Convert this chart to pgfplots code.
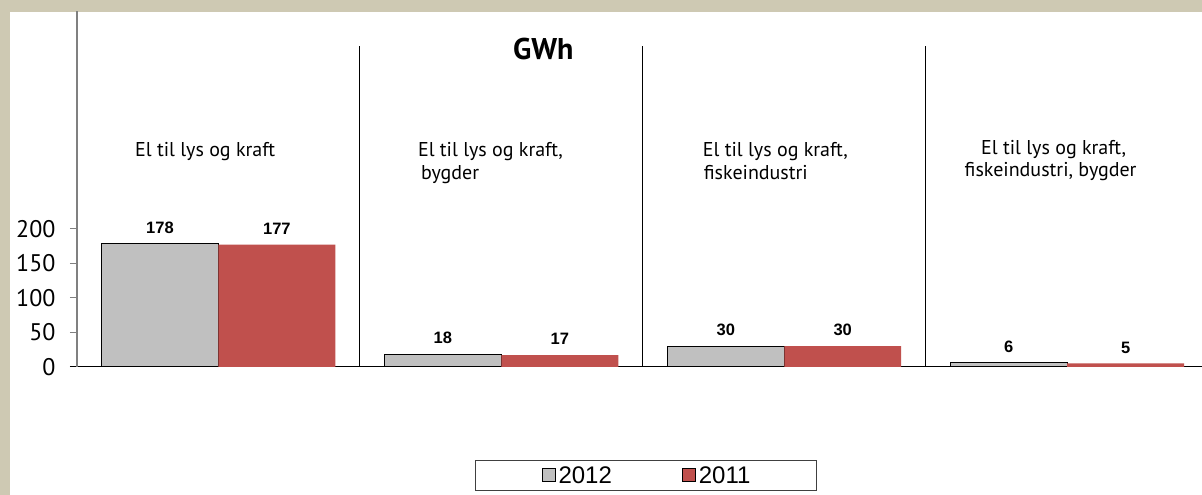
\documentclass[border=0pt]{standalone}
\usepackage{pgfplots}
\pgfplotsset{compat=1.18}
\usepackage{fontspec}
\setmainfont{Liberation Sans}
\newfontfamily\myriad{PT Sans}
\definecolor{framecol}{RGB}{206,201,179}
\definecolor{barGray}{RGB}{192,192,192}
\definecolor{barRed}{RGB}{192,80,77}

\begin{document}
\begin{tikzpicture}[x=1pt,y=1pt]
% frame coordinates: origin at lower left of the 1202 x 495 picture,
% axis box lower left sits at (77,128)
\begin{scope}[shift={(-77pt,-128pt)}]
\fill[framecol] (0,0) rectangle (1202,495);
\fill[white] (10,0) rectangle (1202,483);
\end{scope}

\begin{axis}[
    scale only axis, width=1125pt, height=355pt,
    xmin=-0.5, xmax=3.475, ymin=0, ymax=514.5,
    axis x line*=bottom, axis y line*=left,
    axis line style={-},
    x axis line style={black, line width=0.9pt, shorten <=-7pt},
    y axis line style={gray, line width=1.3pt},
    xtick=\empty,
    ytick={0,50,100,150,200},
    tick align=outside, major tick length=7pt,
    ytick style={gray, line width=1pt},
    /pgf/number format/assume math mode=true,
    yticklabel style={font=\myriad\fontsize{24}{28}\selectfont, xshift=-11pt},
    ybar, bar width=0.4134,
    nodes near coords,
    nodes near coords style={font=\bfseries\fontsize{16.5}{18}\selectfont,
        anchor=south, inner sep=0pt, yshift=10pt, black},
    legend columns=2,
    legend style={at={(0.506,-0.3056)}, anchor=center,
        draw=darkgray, line width=1pt,
        font=\fontsize{24}{28}\selectfont,
        inner xsep=66pt, inner ysep=6pt,
        nodes={inner sep=0pt},
        /tikz/every odd column/.append style={column sep=3pt},
        /tikz/every even column/.append style={column sep=70pt}},
    legend image code/.code={\draw[#1,/tikz/.cd,line width=1pt] (0pt,-6.5pt) rectangle (13pt,6.5pt);},
]
\addplot[fill=barGray, draw=black, line width=1pt, bar shift=-0.2067]
    coordinates {(0,178)(1,18)(2,30)(3,6)};
\addplot[fill=barRed, draw=none, bar shift=0.2067]
    coordinates {(0,177)(1,17)(2,30)(3,5)};
\legend{2012,2011}

% group separators
\draw[black, line width=0.8pt] (axis cs:0.5,0) -- (axis cs:0.5,465);
\draw[black, line width=0.8pt] (axis cs:1.5,0) -- (axis cs:1.5,465);
\draw[black, line width=0.8pt] (axis cs:2.5,0) -- (axis cs:2.5,465);
\end{axis}

% titles and category names (frame coordinates)
\begin{scope}[shift={(-77pt,-128pt)}]
\node[anchor=base, inner sep=0pt, font=\myriad\bfseries\fontsize{30}{34}\selectfont] at (543.5,435) {GWh};
\begin{scope}[every node/.style={font=\myriad\fontsize{20}{24}\selectfont, inner sep=0pt}]
\node[anchor=base west] at (135,338) {El til lys og kraft};
\node[anchor=base west] at (418,338) {El til lys og kraft,};
\node[anchor=base west] at (421,315) {bygder};
\node[anchor=base west] at (703,338) {El til lys og kraft,};
\node[anchor=base west] at (704,315) {fiskeindustri};
\node[anchor=base] at (1054,340) {El til lys og kraft,};
\node[anchor=base] at (1051,318) {fiskeindustri, bygder};
\end{scope}
\end{scope}
\end{tikzpicture}
\end{document}
